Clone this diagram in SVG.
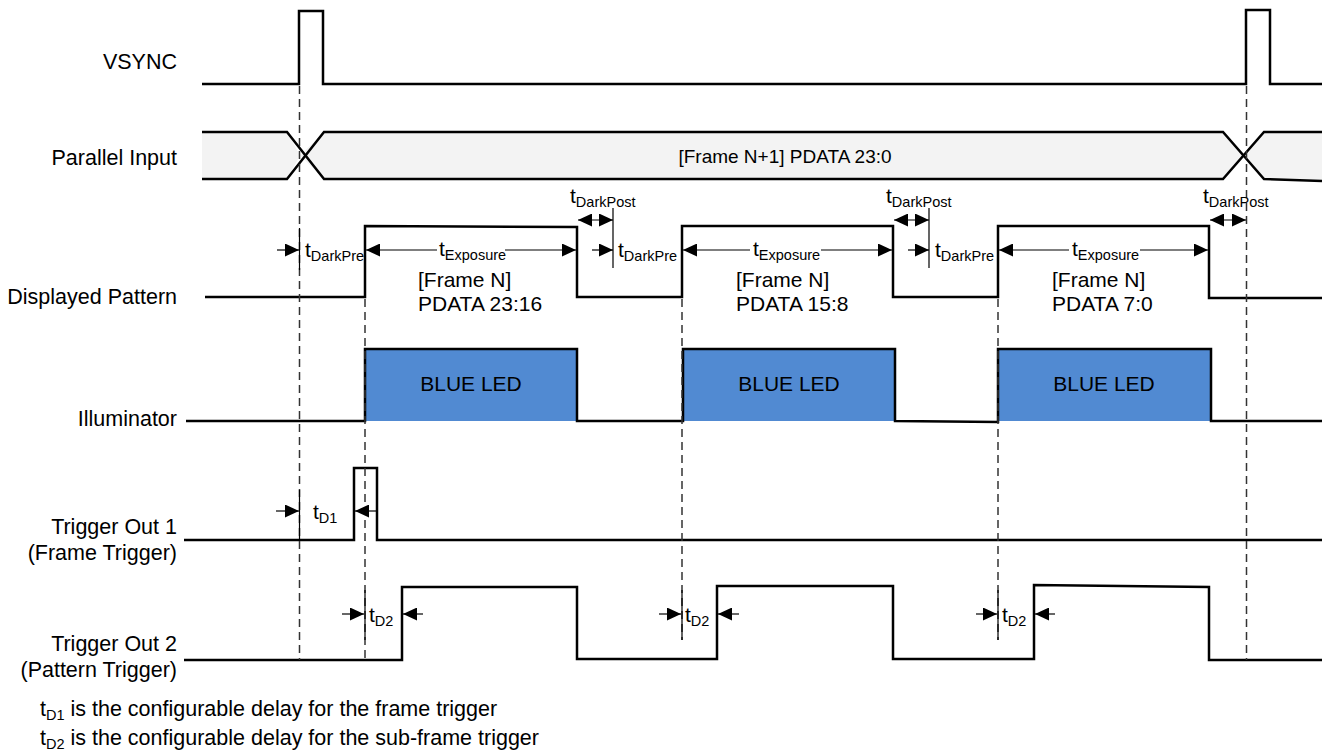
<svg xmlns="http://www.w3.org/2000/svg" width="1322" height="750" viewBox="0 0 1322 750">
<style>
text{font-family:"Liberation Sans",Arial,sans-serif;fill:#000}
.lbl{font-size:21.5px;text-anchor:end}
.txt{font-size:21px}
.note{font-size:21.5px}
.mid{font-size:21px;text-anchor:middle}
.bust{font-size:19px;text-anchor:middle}
.sub{font-size:14.5px}
.sig{fill:none;stroke:#000;stroke-width:2.5;stroke-linejoin:miter}
.dash{fill:none;stroke:#333;stroke-width:1.5;stroke-dasharray:8 5}
.tick{fill:none;stroke:#000;stroke-width:1.2}
.arr{fill:none;stroke:#000;stroke-width:1.2;marker-end:url(#ah)}
.dbl{fill:none;stroke:#000;stroke-width:1.2;marker-start:url(#ah);marker-end:url(#ah)}
.led{fill:#518ad2}
.bus{fill:#f3f3f3}
</style>
<defs>
<marker id="ah" viewBox="0 0 14 13" refX="14" refY="6.5" markerWidth="14" markerHeight="13" markerUnits="userSpaceOnUse" orient="auto-start-reverse">
<path d="M0,0 L14,6.5 L0,13 z" fill="#000"/>
</marker>
</defs>
<rect width="1322" height="750" fill="#fff"/>

<g id="labels">
<text class="lbl" x="177" y="69">VSYNC</text>
<text class="lbl" x="177" y="165">Parallel Input</text>
<text class="lbl" x="177" y="304">Displayed Pattern</text>
<text class="lbl" x="177" y="426">Illuminator</text>
<text class="lbl" x="177" y="534">Trigger Out 1</text>
<text class="lbl" x="177" y="560">(Frame Trigger)</text>
<text class="lbl" x="177" y="651">Trigger Out 2</text>
<text class="lbl" x="177" y="677">(Pattern Trigger)</text>
</g>

<g id="vsync">
<path class="sig" d="M202,84 H299 V11 H323 V84 H1246 V10 H1270 V84 H1322"/>
</g>

<g id="parallel-input">
<polygon class="bus" points="202,132 287,132 300,155.5 287,179 202,179"/>
<polygon class="bus" points="300,155.5 324,132 1223,132 1246,155.5 1223,179 324,179"/>
<polygon class="bus" points="1246,155.5 1264,132 1322,132 1322,181 1264,179"/>
<path class="sig" d="M202,132 H287 L324,179 H1223 L1264,132 H1322"/>
<path class="sig" d="M202,179 H287 L324,132 H1223 L1264,179 L1322,181"/>
<text class="bust" x="785" y="163">[Frame N+1] PDATA 23:0</text>
</g>

<g id="displayed-pattern">
<path class="sig" d="M205,297 H365 V226 L577,227 V297 H682 V226 H893 V297 H998 V226 H1209 V298 H1322"/>
<text class="txt" x="418" y="287">[Frame N]</text>
<text class="txt" x="418" y="311">PDATA 23:16</text>
<text class="txt" x="736" y="287">[Frame N]</text>
<text class="txt" x="736" y="311">PDATA 15:8</text>
<text class="txt" x="1052" y="287">[Frame N]</text>
<text class="txt" x="1052" y="311">PDATA 7:0</text>
</g>

<g id="illuminator">
<rect class="led" x="365" y="349" width="212" height="72"/>
<rect class="led" x="683" y="349" width="212" height="72"/>
<rect class="led" x="998" y="349" width="213" height="72"/>
<path class="sig" d="M186,421 H365 V349 H577 V421 H683 V349 H895 V421 L998,422 V349 H1211 V421 H1322"/>
<text class="mid" x="471" y="391">BLUE LED</text>
<text class="mid" x="789" y="391">BLUE LED</text>
<text class="mid" x="1104" y="391">BLUE LED</text>
</g>

<g id="trigger-out-1">
<path class="sig" d="M184,540 H354 V468 H377 V540 H1322"/>
</g>

<g id="trigger-out-2">
<path class="sig" d="M184,660 H402 V587 H577 V659 H717 V586 H893 V659 H1034 V585 L1209,587 V660 H1322"/>
</g>

<g id="connectors">
<path class="dash" d="M299.5,86 V660 M1246.5,86 V660 M365,299 V660 M682,299 V640 M998,299 V640"/>
<path class="tick" d="M299.5,228 V270 M613,208 V268 M929,208 V268 M299.5,490 V540 M365,590 V640 M682,590 V640 M998,590 V640"/>
<line class="arr" x1="277" y1="250" x2="299" y2="250"/>
<line class="arr" x1="592" y1="250" x2="613" y2="250"/>
<line class="arr" x1="908" y1="250" x2="929" y2="250"/>
<line class="arr" x1="437" y1="250" x2="366" y2="250"/>
<line class="arr" x1="505" y1="250" x2="576" y2="250"/>
<line class="arr" x1="750" y1="250" x2="683" y2="250"/>
<line class="arr" x1="821" y1="250" x2="892" y2="250"/>
<line class="arr" x1="1069" y1="250" x2="999" y2="250"/>
<line class="arr" x1="1140" y1="250" x2="1208" y2="250"/>
<line class="dbl" x1="578" y1="220" x2="613" y2="220"/>
<line class="dbl" x1="894" y1="220" x2="929" y2="220"/>
<line class="dbl" x1="1210" y1="220" x2="1246" y2="220"/>
<line class="arr" x1="276" y1="511" x2="299" y2="511"/>
<line class="arr" x1="376" y1="511" x2="355" y2="511"/>
<line class="arr" x1="342" y1="614" x2="364" y2="614"/>
<line class="arr" x1="423" y1="614" x2="403" y2="614"/>
<line class="arr" x1="659" y1="614" x2="681" y2="614"/>
<line class="arr" x1="739" y1="614" x2="718" y2="614"/>
<line class="arr" x1="976" y1="614" x2="997" y2="614"/>
<line class="arr" x1="1055" y1="614" x2="1035" y2="614"/>
</g>

<g id="timing-labels">
<text class="txt" x="305" y="257">t<tspan class="sub" dy="4">DarkPre</tspan></text>
<text class="txt" x="618" y="257">t<tspan class="sub" dy="4">DarkPre</tspan></text>
<text class="txt" x="935" y="257">t<tspan class="sub" dy="4">DarkPre</tspan></text>
<text class="txt" x="439" y="256">t<tspan class="sub" dy="4">Exposure</tspan></text>
<text class="txt" x="753" y="256">t<tspan class="sub" dy="4">Exposure</tspan></text>
<text class="txt" x="1072" y="256">t<tspan class="sub" dy="4">Exposure</tspan></text>
<text class="txt" x="570" y="203">t<tspan class="sub" dy="4">DarkPost</tspan></text>
<text class="txt" x="886" y="203">t<tspan class="sub" dy="4">DarkPost</tspan></text>
<text class="txt" x="1203" y="203">t<tspan class="sub" dy="4">DarkPost</tspan></text>
<text class="txt" x="313" y="519">t<tspan class="sub" dy="4">D1</tspan></text>
<text class="txt" x="369" y="622">t<tspan class="sub" dy="4">D2</tspan></text>
<text class="txt" x="685" y="622">t<tspan class="sub" dy="4">D2</tspan></text>
<text class="txt" x="1002" y="622">t<tspan class="sub" dy="4">D2</tspan></text>
</g>

<g id="notes">
<text class="note" x="40" y="716">t<tspan class="sub" dy="4">D1</tspan><tspan dy="-4"> is the configurable delay for the frame trigger</tspan></text>
<text class="note" x="40" y="745">t<tspan class="sub" dy="4">D2</tspan><tspan dy="-4"> is the configurable delay for the sub-frame trigger</tspan></text>
</g>
</svg>
